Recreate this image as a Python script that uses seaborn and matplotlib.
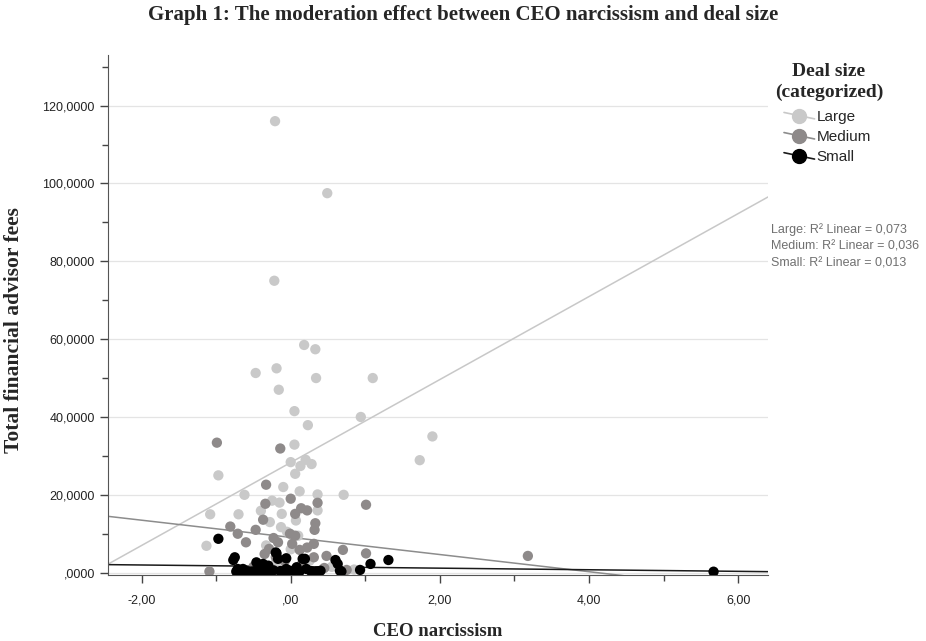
import numpy as np
import pandas as pd
import matplotlib
matplotlib.use("Agg")
import matplotlib.pyplot as plt
import seaborn as sns
from matplotlib.lines import Line2D
from matplotlib.legend_handler import HandlerLine2D
from matplotlib.ticker import FuncFormatter, MultipleLocator

# values (x = CEO narcissism, y = fees)
large_x = [-0.21, 0.49, -0.22, 0.18, 0.33, -0.47, -0.19, 0.34, 1.10, -0.16, 0.05, 0.23, 0.94,
           0.05, 0.00, 0.13, 0.28, 0.20, 0.06, -0.97, -0.10, 0.12, 0.36, 0.71, -0.62, -1.08,
           -0.70, -0.40, -0.25, -0.15, -0.12, 0.36, 0.07, -0.13, -1.13, -0.33, 1.90, 1.73,
           -0.05, 0.10, -0.28, 0.25, 0.55, 0.85, -0.20, 0.00]
large_y = [116.0, 97.5, 75.0, 58.5, 57.4, 51.3, 52.5, 50.0, 50.0, 47.0, 41.5, 37.9, 40.0,
           32.9, 28.4, 27.4, 27.9, 29.0, 25.4, 25.0, 22.0, 20.9, 20.1, 20.0, 20.0, 15.0,
           15.0, 15.9, 18.5, 18.0, 15.1, 16.0, 13.4, 11.7, 6.9, 7.0, 35.0, 28.9,
           10.5, 9.5, 13.0, 3.0, 1.5, 0.8, 2.5, 6.0]

medium_x = [-0.99, -0.14, -0.33, 0.00, -0.34, 0.36, 1.01, 0.14, 0.22, 0.06, -0.37, 0.33, 0.32,
            -0.81, -0.47, -0.71, -0.60, -0.01, 0.06, -0.23, -0.17, 0.02, 0.31, 0.70, 1.01, 0.48,
            0.31, 0.12, 0.22, -0.35, -0.29, -1.09, 3.18, -0.08, 0.45, 0.75, -0.50, 0.15, -0.20]
medium_y = [33.4, 31.9, 22.6, 19.0, 17.7, 17.95, 17.45, 16.55, 16.0, 15.1, 13.6, 12.7, 11.0,
            11.85, 11.0, 10.0, 7.8, 10.0, 9.5, 8.9, 7.8, 7.4, 7.4, 5.85, 4.95, 4.3,
            3.95, 5.85, 6.45, 4.8, 6.1, 0.3, 4.3, 3.0, 1.2, 0.7, 1.5, 2.2, 4.0]

small_x = [-0.97, -0.75, -0.77, -0.20, -0.46, -0.37, -0.06, 0.16, 0.60, 0.63, 1.07, 1.31, 0.93,
           0.66, 0.40, 0.21, -0.64, -0.71, -0.30, -0.19, -0.17, -0.06, 0.08, 0.19, 5.67,
           -0.73, -0.68, -0.62, -0.57, -0.52, -0.47, -0.42, -0.38, -0.33, -0.27, -0.23, -0.14,
           -0.10, -0.02, 0.03, 0.12, 0.27, 0.35, 0.68]
small_y = [8.7, 3.95, 3.25, 5.2, 2.65, 2.25, 3.7, 3.55, 3.25, 2.25, 2.25, 3.25, 0.7,
           0.5, 0.5, 0.95, 0.95, 0.95, 1.8, 4.95, 3.55, 0.95, 1.4, 3.55, 0.25,
           0.3, 0.4, 0.25, 0.35, 0.3, 0.5, 0.3, 0.45, 0.3, 0.35, 0.6, 0.4,
           0.3, 0.5, 0.3, 0.35, 0.4, 0.3, 0.3]

# fit lines as shown: (intercept, slope)
fit_large = (28.3, 10.66)
fit_medium = (9.07, -2.206)
fit_small = (1.564, -0.204)

groups = ["Large", "Medium", "Small"]
r2_labels = ["Large: R\u00b2 Linear = 0,073", "Medium: R\u00b2 Linear = 0,036", "Small: R\u00b2 Linear = 0,013"]
colors = {"Large": "#c9c9c9", "Medium": "#8e8a8a", "Small": "#000000"}
line_colors = {"Large": "#c8c8c8", "Medium": "#8c8c8c", "Small": "#1a1a1a"}

df = pd.concat([
    pd.DataFrame({"narc": large_x, "fees": large_y, "size": "Large"}),
    pd.DataFrame({"narc": medium_x, "fees": medium_y, "size": "Medium"}),
    pd.DataFrame({"narc": small_x, "fees": small_y, "size": "Small"}),
])

sns.set_style("white")
plt.rcParams["font.family"] = ["Liberation Sans", "DejaVu Sans"]

fig = plt.figure(figsize=(9.26, 6.41), dpi=100)
ax = fig.add_axes([108 / 926, 1 - 575 / 641, 660 / 926, 520 / 641])

xlim = (-2.45, 6.40)
ax.set_xlim(*xlim)
ax.set_ylim(-0.6, 133)

ax.yaxis.set_major_locator(MultipleLocator(20))
ax.yaxis.set_minor_locator(MultipleLocator(10))
ax.xaxis.set_major_locator(MultipleLocator(2))
ax.xaxis.set_minor_locator(MultipleLocator(1))
ax.grid(axis="y", which="major", color="#e4e4e4", lw=0.9)
ax.set_axisbelow(True)

xs = np.array(xlim)
for g, (b0, b1) in zip(groups, [fit_large, fit_medium, fit_small]):
    ax.plot(xs, b0 + b1 * xs, color=line_colors[g], lw=1.1, zorder=2)

sns.scatterplot(data=df, x="narc", y="fees", hue="size", hue_order=groups,
                palette=colors, s=55, edgecolor="none", legend=False, ax=ax, zorder=3)


def yfmt(v, pos):
    s = f"{v:.4f}".replace(".", ",")
    return s[1:] if s.startswith("0,") else s


def xfmt(v, pos):
    s = f"{v:.2f}".replace(".", ",")
    if s.startswith("0,"):
        s = s[1:]
    if s.startswith("-0,"):
        s = ",00"
    return s


ax.yaxis.set_major_formatter(FuncFormatter(yfmt))
ax.xaxis.set_major_formatter(FuncFormatter(xfmt))
ax.tick_params(axis="both", which="both", direction="out", color="#444444",
               labelsize=9, labelcolor="#222222", bottom=True, left=True)
ax.tick_params(which="major", length=6, width=1)
ax.tick_params(which="minor", length=4, width=1)
ax.tick_params(axis="x", pad=8)

sns.despine(ax=ax)
ax.spines["left"].set_color("#555555")
ax.spines["bottom"].set_color("#555555")
ax.set_xlabel("")
ax.set_ylabel("")

serif = ["Liberation Serif", "DejaVu Serif"]
fig.text(0.5, 1 - 15 / 641, "Graph 1: The moderation effect between CEO narcissism and deal size",
         ha="center", va="center", family=serif, weight="bold", fontsize=15)
fig.text(438 / 926, 1 - 631 / 641, "CEO narcissism", ha="center", va="center",
         family=serif, weight="bold", fontsize=13.5)
fig.text(14 / 926, 1 - 330 / 641, "Total financial advisor fees", ha="center", va="center",
         rotation=90, family=serif, weight="bold", fontsize=15.5)

# legend title drawn on its own so the gap to the entries matches
fig.text(829 / 926, 1 - 72 / 641, "Deal size", ha="center", va="center",
         family=serif, weight="bold", fontsize=14)
fig.text(829 / 926, 1 - 92 / 641, "(categorized)", ha="center", va="center",
         family=serif, weight="bold", fontsize=14)


class SlantHandler(HandlerLine2D):
    def create_artists(self, legend, orig_handle, xdescent, ydescent, width, height, fontsize, trans):
        arts = super().create_artists(legend, orig_handle, xdescent, ydescent, width, height,
                                      fontsize, trans)
        ln = arts[0]
        y0 = (height - ydescent) / 2
        ln.set_ydata([y0 + 0.3 * height, y0, y0 - 0.3 * height])
        return arts


handles = [Line2D([], [], color=line_colors[g], marker="o", markersize=10,
                  markerfacecolor=colors[g], markeredgecolor=colors[g], lw=1.2) for g in groups]
leg = fig.legend(handles, groups, loc="upper left", bbox_to_anchor=(784 / 926, 1 - 110 / 641),
                 frameon=False, numpoints=1, handlelength=2.0, handletextpad=0.15,
                 labelspacing=0.4, borderpad=0, borderaxespad=0, fontsize=11,
                 handler_map={Line2D: SlantHandler()})

for i, lab in enumerate(r2_labels):
    fig.text(771 / 926, 1 - (230 + 16.5 * i) / 641, lab, ha="left", va="center",
             fontsize=9, color="#707070")

fig.savefig("out.png", dpi=100)
